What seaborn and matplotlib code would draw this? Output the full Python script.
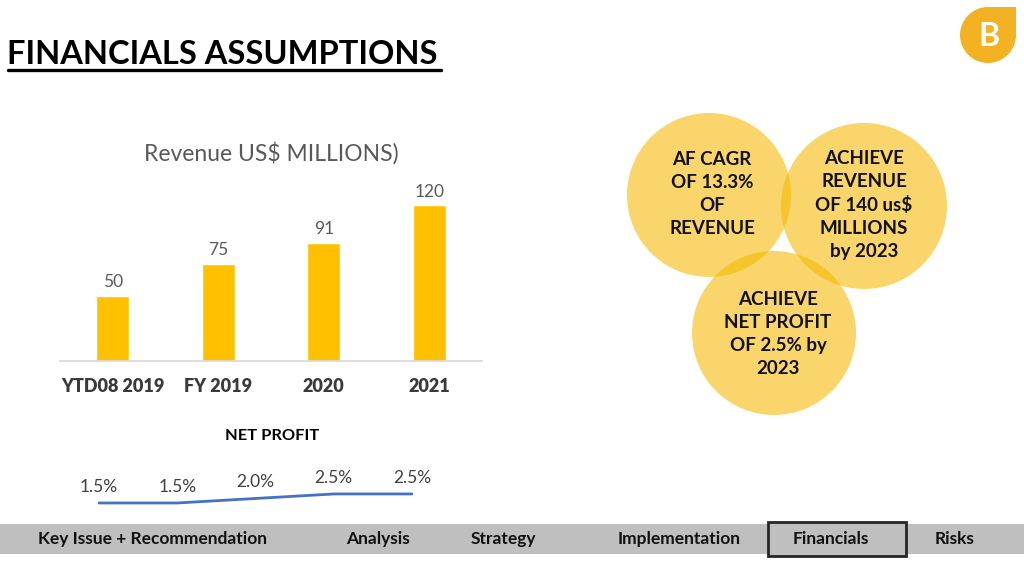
# revenue / net profit slide with seaborn

import pandas as pd
import seaborn as sns
import matplotlib.pyplot as plt
from matplotlib.patches import Circle, Rectangle

sns.set_theme(style="white")
plt.rcParams['font.family'] = ['Lato', 'DejaVu Sans']

# data
periods = ["YTD08 2019", "FY 2019", "2020", "2021"]
revenue = [50, 75, 91, 120]
profit_points = ["p1", "p2", "p3", "p4", "p5"]
net_profit = [1.5, 1.5, 2.0, 2.5, 2.5]
bubble_texts = ["AF CAGR\nOF 13.3%\nOF\nREVENUE",
                "ACHIEVE\nREVENUE\nOF 140 us$\nMILLIONS\nby 2023",
                "ACHIEVE\nNET PROFIT\nOF 2.5% by\n2023"]
nav_items = ["Key Issue + Recommendation", "Analysis", "Strategy",
             "Implementation", "Financials", "Risks"]

rev_df = pd.DataFrame({"period": periods, "revenue": revenue})
np_df = pd.DataFrame({"point": profit_points, "profit": net_profit})

W, H = 1024, 576
fig = plt.figure(figsize=(W / 100, H / 100), dpi=100)
fig.patch.set_facecolor("white")

def fx(x):
    return x / W

def fy(y):
    return 1 - y / H

# page title with underline
fig.text(fx(7), fy(54), "FINANCIALS ASSUMPTIONS", fontsize=23.5, fontweight="bold",
         color="black", va="center", ha="left")
fig.add_artist(plt.Line2D([fx(8), fx(441)], [fy(70), fy(70)], color="black", lw=2.4))

# revenue bar chart
ax = fig.add_axes([fx(60), fy(361), fx(482) - fx(60), fy(170) - fy(361)])
sns.barplot(data=rev_df, x="period", y="revenue", color="#FFC000", width=0.31,
            saturation=1, ax=ax)
ax.set_ylim(0, 147)
ax.set_xlim(-0.5, 3.5)
for c in ax.containers:
    ax.bar_label(c, padding=4, fontsize=12.5, color="#595959")
ax.set_xlabel("")
ax.set_ylabel("")
ax.set_yticks([])
ax.tick_params(axis="x", length=0, pad=12, labelsize=13, labelcolor="#3A3A3A")
for t in ax.get_xticklabels():
    t.set_fontweight("heavy")
sns.despine(ax=ax, left=True)
ax.spines["bottom"].set_color("#D9D9D9")
ax.set_facecolor("none")
fig.text(fx(271), fy(153), "Revenue US$ MILLIONS)", fontsize=16.5, color="#595959",
         ha="center", va="center")

# net profit line
fig.text(fx(272), fy(436), "NET PROFIT", fontsize=11.8, fontweight="bold",
         color="black", ha="center", va="center")
ax2 = fig.add_axes([fx(60), fy(510), fx(451) - fx(60), fy(470) - fy(510)])
sns.lineplot(data=np_df, x="point", y="profit", color="#4472C4", lw=2, ax=ax2)
ax2.set_xlim(-0.5, 4.5)
ax2.set_ylim(0.72, 5.16)
for i, v in enumerate(net_profit):
    ax2.annotate(f"{v:.1f}%", (i, v), xytext=(0, 6), textcoords="offset points",
                 ha="center", va="bottom", fontsize=12.5, color="#404040")
ax2.axis("off")

# overlapping bubbles
bx = fig.add_axes([0, 0, 1, 1])
bx.set_xlim(0, W)
bx.set_ylim(H, 0)
bx.axis("off")
bubbles = [(709, 195, 82), (864, 206, 83), (774, 333, 82)]
for cx, cy, r in bubbles:
    bx.add_patch(Circle((cx, cy), r, facecolor="#F5B800", alpha=0.58, lw=0))
text_pos = [(712, 194), (864, 205), (778, 334)]
for (tx, ty), txt in zip(text_pos, bubble_texts):
    bx.text(tx, ty, txt, ha="center", va="center", fontsize=13.5,
            fontweight="bold", color="#111111", linespacing=1.43)

# logo
bx.add_patch(Circle((988, 35), 28, facecolor="#F2B224", lw=0))
bx.add_patch(Rectangle((988, 7), 28, 28, facecolor="#F2B224", lw=0))
bx.text(989, 37, "B", ha="center", va="center", fontsize=23, fontweight="bold",
        color="white")

# navigation bar
bx.add_patch(Rectangle((0, 524), W, 30, facecolor="#BFBFBF", lw=0))
bx.add_patch(Rectangle((768, 522), 138, 34, facecolor="#BFBFBF",
                       edgecolor="#262626", lw=2))
nav_x = [152, 378, 503, 679, 831, 955]
for x, name in zip(nav_x, nav_items):
    bx.text(x, 539, name, ha="center", va="center", fontsize=12.5,
            fontweight="bold", color="#111111")

plt.savefig("out.png", dpi=100)
